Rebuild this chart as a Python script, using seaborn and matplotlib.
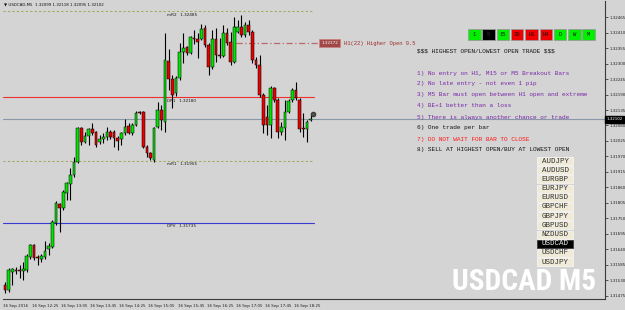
import matplotlib
matplotlib.use("Agg")
import matplotlib.pyplot as plt
import matplotlib.transforms as mtrans
from matplotlib import font_manager
from matplotlib.patches import Rectangle
import seaborn as sns
import numpy as np
import pandas as pd

# ---------------- data ----------------
symbol = "USDCAD"
timeframe = "M5"

opens = [1.31513, 1.31496, 1.31559, 1.31567, 1.31567, 1.31563, 1.31567, 1.31613, 1.31655, 1.31613,
         1.31606, 1.31613, 1.31641, 1.31648, 1.31733, 1.31801, 1.31787, 1.31840, 1.31872, 1.31904,
         1.31950, 1.32071, 1.32021, 1.32042, 1.32067, 1.32056, 1.32021, 1.32032, 1.32039, 1.32056,
         1.32056, 1.32035, 1.32032, 1.32053, 1.32078, 1.32053, 1.32081, 1.32127, 1.32127, 1.32003,
         1.31982, 1.31957, 1.32074, 1.32135, 1.32092, 1.32308, 1.32245, 1.32195, 1.32248, 1.32340,
         1.32358, 1.32337, 1.32390, 1.32387, 1.32387, 1.32426, 1.32365, 1.32287, 1.32387, 1.32330,
         1.32326, 1.32408, 1.32376, 1.32305, 1.32411, 1.32429, 1.32401, 1.32436, 1.32411, 1.32312,
         1.32294, 1.32188, 1.32110, 1.32081, 1.32213, 1.32170, 1.32056, 1.32071, 1.32127, 1.32170,
         1.32205, 1.32170, 1.32071, 1.32067, 1.32099]
highs = [1.31524, 1.31574, 1.31574, 1.31577, 1.31584, 1.31595, 1.31623, 1.31659, 1.31659, 1.31620,
         1.31623, 1.31669, 1.31662, 1.31744, 1.31811, 1.31804, 1.31850, 1.31879, 1.31929, 1.31968,
         1.32074, 1.32074, 1.32056, 1.32071, 1.32088, 1.32060, 1.32046, 1.32053, 1.32074, 1.32063,
         1.32063, 1.32042, 1.32056, 1.32103, 1.32088, 1.32088, 1.32131, 1.32131, 1.32131, 1.32010,
         1.31985, 1.32074, 1.32163, 1.32152, 1.32408, 1.32351, 1.32259, 1.32255, 1.32372, 1.32408,
         1.32362, 1.32397, 1.32419, 1.32408, 1.32440, 1.32436, 1.32372, 1.32419, 1.32426, 1.32390,
         1.32436, 1.32426, 1.32411, 1.32465, 1.32454, 1.32472, 1.32447, 1.32454, 1.32419, 1.32323,
         1.32330, 1.32195, 1.32152, 1.32220, 1.32216, 1.32177, 1.32092, 1.32170, 1.32174, 1.32213,
         1.32234, 1.32177, 1.32124, 1.32099, 1.32118]
lows = [1.31485, 1.31488, 1.31513, 1.31552, 1.31538, 1.31531, 1.31559, 1.31606, 1.31602, 1.31584,
        1.31595, 1.31606, 1.31620, 1.31645, 1.31726, 1.31701, 1.31780, 1.31815, 1.31815, 1.31897,
        1.31946, 1.32010, 1.32017, 1.32010, 1.32046, 1.32003, 1.32014, 1.32017, 1.32028, 1.32032,
        1.32003, 1.31992, 1.32010, 1.32046, 1.32049, 1.32046, 1.32078, 1.32120, 1.32000, 1.31968,
        1.31957, 1.31950, 1.32071, 1.32063, 1.32056, 1.32205, 1.32142, 1.32184, 1.32241, 1.32301,
        1.32330, 1.32333, 1.32369, 1.32319, 1.32383, 1.32358, 1.32259, 1.32280, 1.32305, 1.32318,
        1.32323, 1.32365, 1.32294, 1.32301, 1.32408, 1.32394, 1.32394, 1.32401, 1.32301, 1.32284,
        1.32181, 1.32053, 1.32046, 1.32035, 1.32163, 1.32035, 1.32046, 1.32028, 1.32124, 1.32163,
        1.32170, 1.32056, 1.32039, 1.32021, 1.32095]
closes = [1.31496, 1.31567, 1.31570, 1.31563, 1.31565, 1.31570, 1.31616, 1.31655, 1.31609, 1.31611,
          1.31616, 1.31634, 1.31652, 1.31737, 1.31804, 1.31787, 1.31843, 1.31875, 1.31904, 1.31950,
          1.32071, 1.32021, 1.32042, 1.32067, 1.32053, 1.32010, 1.32032, 1.32039, 1.32056, 1.32039,
          1.32035, 1.32024, 1.32053, 1.32074, 1.32053, 1.32081, 1.32124, 1.32124, 1.32003, 1.31982,
          1.31964, 1.32071, 1.32135, 1.32099, 1.32312, 1.32245, 1.32188, 1.32248, 1.32340, 1.32355,
          1.32337, 1.32394, 1.32387, 1.32376, 1.32422, 1.32365, 1.32287, 1.32387, 1.32330, 1.32325,
          1.32408, 1.32372, 1.32305, 1.32429, 1.32429, 1.32401, 1.32436, 1.32411, 1.32312, 1.32294,
          1.32188, 1.32081, 1.32081, 1.32213, 1.32170, 1.32056, 1.32074, 1.32127, 1.32166, 1.32205,
          1.32177, 1.32067, 1.32067, 1.32092, 1.32102]

xtick_labels = ["16 Sep 2016", "16 Sep 12:25", "16 Sep 13:05", "16 Sep 13:45", "16 Sep 14:25",
                "16 Sep 15:05", "16 Sep 15:45", "16 Sep 16:25", "16 Sep 17:05", "16 Sep 17:45",
                "16 Sep 18:25"]
xtick_step = 8

ytick_values = [1.31475, 1.31530, 1.31585, 1.31640, 1.31695, 1.31750, 1.31805, 1.31860, 1.31915,
                1.31970, 1.32025, 1.32080, 1.32135, 1.32190, 1.32245, 1.32300, 1.32355, 1.32410,
                1.32465]

pivot_names = ["mR2", "DR1", "mR1", "DPV"]
pivot_values = [1.32485, 1.32180, 1.31955, 1.31735]

h1_open_level = 1.32372
h1_text = "H1(22) Higher Open 9.5"

tf_buttons = ["1", "5", "15", "30", "H1", "H4", "D", "W", "M"]
tf_states = ["up", "cur", "up", "down", "down", "down", "up", "up", "up"]

pairs = ["AUDJPY", "AUDUSD", "EURGBP", "EURJPY", "EURUSD", "GBPCHF", "GBPJPY", "GBPUSD",
         "NZDUSD", "USDCAD", "USDCHF", "USDJPY"]

rules_title = "$$$ HIGHEST OPEN/LOWEST OPEN TRADE $$$"
rules = ["1) No entry on H1, M15 or M5 Breakout Bars",
         "2) No late entry - not even 1 pip",
         "3) M5 Bar must open between H1 open and extreme",
         "4) BE+1 better than a loss",
         "5) There is always another chance or trade",
         "6) One trade per bar",
         "7) DO NOT WAIT FOR BAR TO CLOSE",
         "8) SELL AT HIGHEST OPEN/BUY AT LOWEST OPEN"]
rule_kinds = ["info", "info", "info", "info", "info", "plain", "warn", "plain"]

# ---------------- style ----------------
sns.set_theme(style="white")
plt.rcParams["font.family"] = ["DejaVu Sans"]
plt.rcParams["text.parse_math"] = False

BG = "#d4d4d4"
W, H = 625, 310
fig = plt.figure(figsize=(W / 100, H / 100), dpi=100)
fig.patch.set_facecolor(BG)


def fp(x, y):
    return x / W, 1 - y / H


# axes in pixels: left 3, right 605, top 1, bottom 299
AX_L, AX_R, AX_T, AX_B = 3, 605, 1, 299
ax = fig.add_axes([AX_L / W, 1 - AX_B / H, (AX_R - AX_L) / W, (AX_B - AX_T) / H])
ax.set_facecolor(BG)

df = pd.DataFrame({"open": opens, "high": highs, "low": lows, "close": closes})
df["i"] = np.arange(len(df))
df["up"] = df["close"] >= df["open"]
n = len(df)

ax.set_xlim(-0.55, 164.95)
ax.set_ylim(1.31464, 1.32522)

# wicks
ax.vlines(df["i"], df["low"], df["high"], color="black", lw=0.8, zorder=3)
# bodies
body_h = (df["close"] - df["open"]).abs().clip(lower=0.000012)
body_b = df[["open", "close"]].min(axis=1)
colors = np.where(df["up"], "#00e400", "#e80000")
ax.bar(df["i"], body_h, bottom=body_b, width=0.74, color=colors,
       edgecolor="black", linewidth=0.35, zorder=4)

# pivot lines
pivot_style = {"mR2": dict(color="#a8a860", ls=(0, (2, 2)), lw=0.8),
               "DR1": dict(color="#f03030", ls="-", lw=0.8),
               "mR1": dict(color="#a8a860", ls=(0, (2, 2)), lw=0.8),
               "DPV": dict(color="#3a3ad0", ls="-", lw=0.8)}
for name, val in zip(pivot_names, pivot_values):
    ax.plot([-0.55, n], [val, val], zorder=2, **pivot_style[name])
    ax.text(44.6, val, f"{name}   {val:.5f}", fontsize=3.0, va="top", ha="left",
            color="#181818", zorder=5,
            transform=ax.transData + mtrans.ScaledTranslation(0, -1.2 / 100, fig.dpi_scale_trans))

# current price line
last = closes[-1]
ax.axhline(last, color="#8898a8", lw=0.8, zorder=1)

# H1 open dash-dot line + tag
ax.plot([63.5, 86.8], [h1_open_level, h1_open_level], color="#b86a6a",
        ls=(0, (5, 2, 1, 2)), lw=0.9, zorder=2)
ax.text(86.9, h1_open_level, f"{h1_open_level:.5f}", fontsize=3.0, color="white",
        va="center", ha="left", zorder=6,
        bbox=dict(boxstyle="square,pad=0.45", fc="#a04848", ec="#d08080", lw=0.5))
ax.text(93.3, h1_open_level, h1_text, fontsize=3.95, color="#a02c2c", va="center", ha="left",
        family="Liberation Mono", zorder=6)

# last-bar marker
sns.scatterplot(x=[df["i"].iloc[-1] + 0.6], y=[last + 0.00018], marker="o", s=12,
                color="#505050", edgecolor="#202020", linewidth=0.5, ax=ax, zorder=7, legend=False)

# axes decoration
for s in ["left", "top"]:
    ax.spines[s].set_visible(False)
for s in ["right", "bottom"]:
    ax.spines[s].set_color("#3a3a3a")
    ax.spines[s].set_linewidth(0.8)
ax.yaxis.tick_right()
ax.set_yticks(ytick_values)
ax.set_yticklabels([f"{v:.5f}" for v in ytick_values])
ax.tick_params(axis="y", direction="out", length=2, width=0.5, pad=1.2, labelsize=2.9,
               colors="#202020")
xt = list(range(0, n, xtick_step))[:len(xtick_labels)]
ax.set_xticks(xt)
ax.set_xticklabels(xtick_labels[:len(xt)], ha="left")
ax.tick_params(axis="x", direction="out", length=2, width=0.5, pad=1.5, labelsize=2.9,
               colors="#202020")
for lab in ax.get_xticklabels():
    lab.set_transform(lab.get_transform() + mtrans.ScaledTranslation(-2 / 100, 0, fig.dpi_scale_trans))
ax.grid(False)

# current price tag on right axis
ax.text(1.002, last, f"{last:.5f}", transform=ax.get_yaxis_transform(), fontsize=2.9,
        color="white", va="center", ha="left", zorder=8, clip_on=False,
        bbox=dict(boxstyle="square,pad=0.35", fc="black", ec="black"))

# title
fig.text(*fp(4, 5), f"\u25bc {symbol},{timeframe}  {opens[-1]:.5f} {highs[-1]:.5f} "
         f"{lows[-1]:.5f} {closes[-1]:.5f}", fontsize=2.9, va="center", ha="left", color="#101010")

# timeframe buttons
tf_colors = {"up": "#00f000", "cur": "#000000", "down": "#f00000"}
for k, (lab, st) in enumerate(zip(tf_buttons, tf_states)):
    x0 = 468 + k * 14.3
    fig.patches.append(Rectangle(fp(x0, 40), 12.5 / W, 11 / H, transform=fig.transFigure,
                                 fc=tf_colors[st], ec="#9a9a9a", lw=0.6))
    fig.text(*fp(x0 + 6.25, 34.5), lab, fontsize=4.0, family="Liberation Mono",
             color="#303030" if st == "cur" else "#101010", ha="center", va="center")

# rules text
rule_colors = {"info": "#7a28a8", "plain": "#141414", "warn": "#ff1818"}
fig.text(*fp(417, 51), rules_title, fontsize=4.45, family="Liberation Mono",
         color="#141414", ha="left", va="center")
for k, (txt, kind) in enumerate(zip(rules, rule_kinds)):
    fig.text(*fp(417, 73 + k * 11), txt, fontsize=4.45, family="Liberation Mono",
             color=rule_colors[kind], ha="left", va="center")

# pair buttons
for k, p in enumerate(pairs):
    yc = 161 + k * 9.2
    active = (p == symbol)
    fig.patches.append(Rectangle(fp(537, yc + 4), 36 / W, 8 / H, transform=fig.transFigure,
                                 fc="#000000" if active else "#efebd8",
                                 ec="#f8f8f8" if not active else "#303030", lw=0.5))
    fig.text(*fp(555, yc), p, fontsize=5.4, family="Liberation Mono",
             color="#f0f0f0" if active else "#303030", ha="center", va="center")

# watermark: prefer a condensed bold face, size it to the reference width
names = {(f.name, f.stretch) for f in font_manager.fontManager.ttflist}
wm_family, wm_stretch = "DejaVu Sans", "normal"
for fam, st in [("Liberation Sans Narrow", "normal"), ("Liberation Sans Narrow", "condensed"),
                ("Roboto Condensed", "normal"), ("Roboto Condensed", "condensed"),
                ("Open Sans Condensed", "condensed"), ("DejaVu Sans", "condensed"),
                ("Roboto", "condensed")]:
    if (fam, st) in names:
        wm_family, wm_stretch = fam, st
        break
wm = fig.text(*fp(452, 290), f"{symbol} {timeframe}", fontsize=20, fontweight="bold",
              family=wm_family, stretch=wm_stretch, color="white", ha="left", va="baseline")
renderer = fig.canvas.get_renderer()
w0 = wm.get_window_extent(renderer).width
size = min(20 * 144 / w0, 30)
wm.set_fontsize(size)

fig.savefig("out.png", dpi=100, facecolor=BG)
